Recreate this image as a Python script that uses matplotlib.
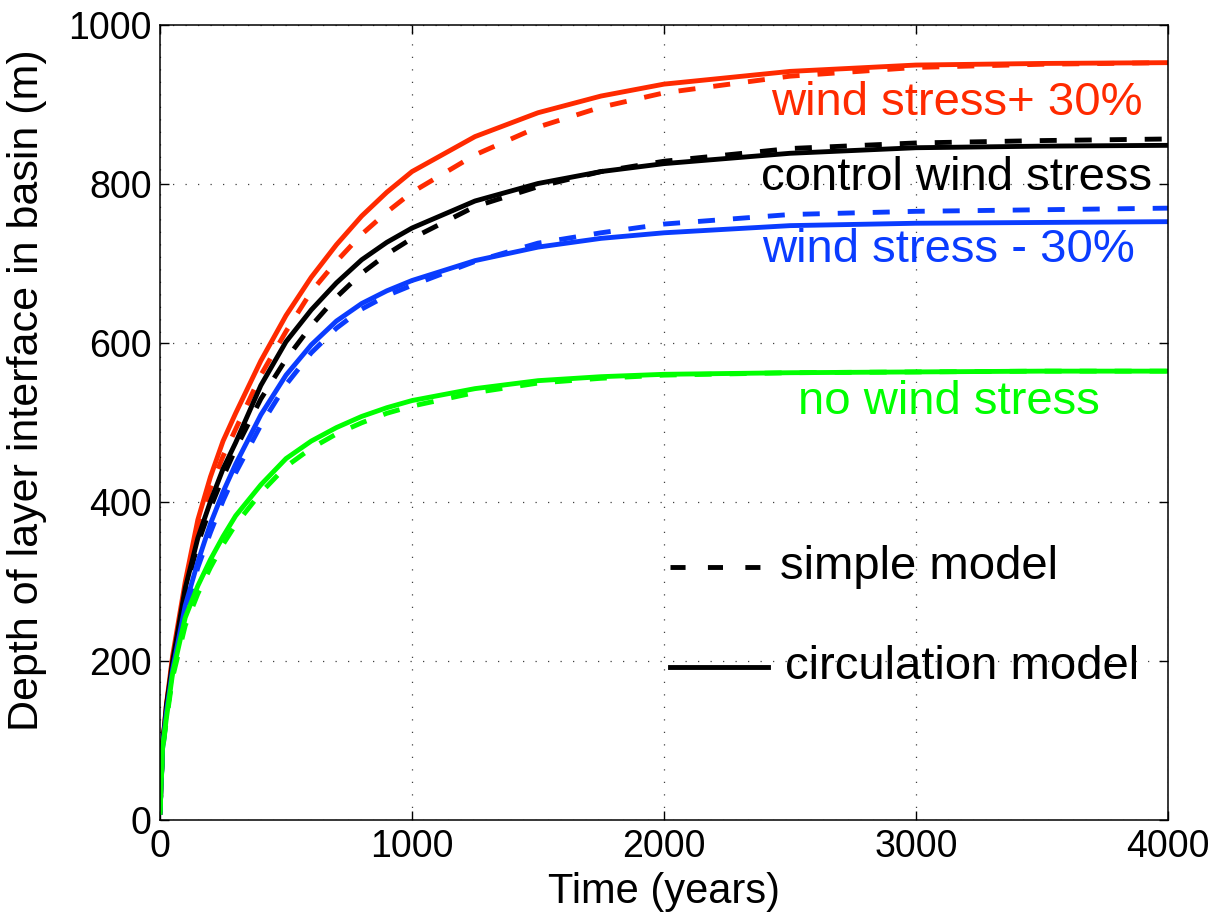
import numpy as np
import matplotlib
matplotlib.use('Agg')
import matplotlib.pyplot as plt

plt.rcParams['font.family'] = ['Liberation Sans', 'DejaVu Sans']

##
##  Depth of the layer interface (m) against time (years)
##
time = [0, 10, 25, 50, 100, 150, 200, 250, 300, 400, 500, 600, 700, 800,
        900, 1000, 1250, 1500, 1750, 2000, 2500, 3000, 3500, 4000]

# circulation model (solid) and simple model (dashed) for each wind forcing
circ_plus30   = [10, 95, 145, 207, 300, 378, 432, 477, 512, 578, 635, 683,
                 724, 760, 790, 816, 860, 890, 911, 926, 942, 950, 952, 953]
simple_plus30 = [10, 92, 143, 203, 292, 365, 418, 458, 492, 560, 615, 665,
                 703, 737, 765, 790, 837, 872, 897, 915, 936, 947, 951, 953]

circ_control   = [10, 93, 143, 200, 292, 355, 401, 442, 475, 547, 602, 642,
                  676, 705, 727, 745, 779, 801, 816, 826, 839, 846, 848, 849]
simple_control = [10, 92, 140, 197, 287, 348, 393, 432, 467, 530, 580, 622,
                  658, 688, 712, 732, 772, 797, 816, 829, 845, 852, 855, 857]

circ_minus30   = [10, 90, 135, 190, 270, 325, 373, 413, 448, 510, 560, 598,
                  628, 650, 666, 679, 704, 721, 732, 739, 748, 751, 752, 753]
simple_minus30 = [10, 87, 130, 185, 262, 318, 362, 402, 437, 497, 548, 588,
                  619, 643, 660, 673, 703, 726, 739, 750, 762, 766, 768, 770]

circ_nowind   = [10, 90, 128, 185, 255, 295, 328, 357, 383, 422, 455, 477,
                 494, 508, 519, 528, 543, 553, 558, 561, 563, 564, 565, 565]
simple_nowind = [10, 88, 125, 180, 245, 285, 318, 347, 372, 412, 445, 468,
                 486, 500, 512, 521, 538, 550, 556, 560, 563, 564, 565, 565]

red = '#ff2a00'
black = '#000000'
blue = '#0a3cff'
green = '#00ff00'

fig = plt.figure(figsize=(12.17, 9.13), dpi=100)
ax = fig.add_axes([0.1315, 0.1015, 0.8282, 0.8708])

lw = 3.5
dash = (0, (3.5, 3.7))

ax.plot(time, simple_plus30, color=red, lw=lw, linestyle=dash)
ax.plot(time, circ_plus30, color=red, lw=lw)
ax.plot(time, simple_control, color=black, lw=lw, linestyle=dash)
ax.plot(time, circ_control, color=black, lw=lw)
ax.plot(time, simple_minus30, color=blue, lw=lw, linestyle=dash)
ax.plot(time, circ_minus30, color=blue, lw=lw)
ax.plot(time, simple_nowind, color=green, lw=lw, linestyle=dash)
ax.plot(time, circ_nowind, color=green, lw=lw)

# hand-drawn key
ax.plot([2024, 2413], [319, 319], color=black, lw=lw, linestyle=(0, (3.1, 4.6)))
ax.plot([2024, 2413], [193, 193], color=black, lw=lw)
ax.text(2460, 319, 'simple model', fontsize=34, va='center', ha='left')
ax.text(2480, 193, 'circulation model', fontsize=34, va='center', ha='left')

# curve labels
ax.text(3901, 902, 'wind stress+ 30%', color=red, fontsize=34, ha='right', va='center')
ax.text(3937, 808, 'control wind stress', color=black, fontsize=34, ha='right', va='center')
ax.text(3869, 717, 'wind stress - 30%', color=blue, fontsize=34, ha='right', va='center')
ax.text(3730, 526, 'no wind stress', color=green, fontsize=34, ha='right', va='center')

ax.set_xlim(0, 4000)
ax.set_ylim(0, 1000)
ax.set_xticks([0, 1000, 2000, 3000, 4000])
ax.set_yticks([0, 200, 400, 600, 800, 1000])

ax.grid(True, color='0.25', lw=0.9, linestyle=(0, (1, 9)))
ax.tick_params(direction='in', length=6.5, width=1.0, top=True, right=True,
               labelsize=27, pad=6)
for s in ax.spines.values():
    s.set_linewidth(1.1)

ax.set_xlabel('Time (years)', fontsize=30, labelpad=5)
ax.set_ylabel('Depth of layer interface in basin (m)', fontsize=31, va='center')
ax.yaxis.set_label_coords(-0.132, 0.541)

fig.savefig('out.png', dpi=100)
plt.close(fig)
